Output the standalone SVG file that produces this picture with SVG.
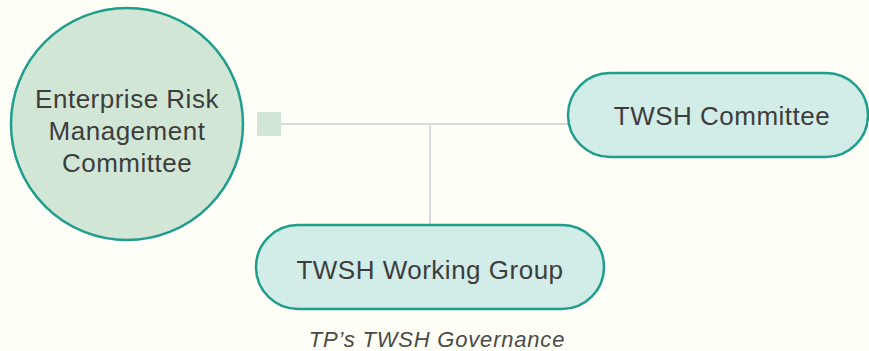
<svg xmlns="http://www.w3.org/2000/svg" width="869" height="351" viewBox="0 0 869 351">
<style>
.node{fill:#d2ece8;stroke:#1f9e8e;stroke-width:2.5}
.circ{fill:#d1e6d5;stroke:#1f9e8e;stroke-width:2.5}
.lbl{font-family:"Liberation Sans",Arial,sans-serif;font-size:26px;letter-spacing:0.5px;fill:#3d3d3d;text-anchor:middle}
.conn{stroke:#d9d9d9;stroke-width:2;fill:none}
.cap{font-family:"Liberation Sans",Arial,sans-serif;font-size:22px;letter-spacing:0.8px;font-style:italic;fill:#4a4a4a;text-anchor:middle}
</style>
<rect width="869" height="351" fill="#fffff7"/>
<g id="connectors">
<path class="conn" d="M281 124 H569"/>
<path class="conn" d="M430 124 V225"/>
</g>
<g id="erm">
<circle class="circ" cx="127" cy="124" r="116"/>
<text class="lbl" x="127" y="108">Enterprise Risk</text>
<text class="lbl" x="127" y="140">Management</text>
<text class="lbl" x="127" y="172">Committee</text>
<rect x="257" y="112" width="24" height="24" fill="#d1e6d5"/>
</g>
<g id="twsh-committee">
<rect class="node" x="568" y="73" width="300" height="84" rx="42"/>
<text class="lbl" x="722" y="125">TWSH Committee</text>
</g>
<g id="twsh-working-group">
<rect class="node" x="256" y="225" width="348" height="84" rx="42"/>
<text class="lbl" x="430" y="279">TWSH Working Group</text>
</g>
<text class="cap" x="437" y="347">TP’s TWSH Governance</text>
</svg>
